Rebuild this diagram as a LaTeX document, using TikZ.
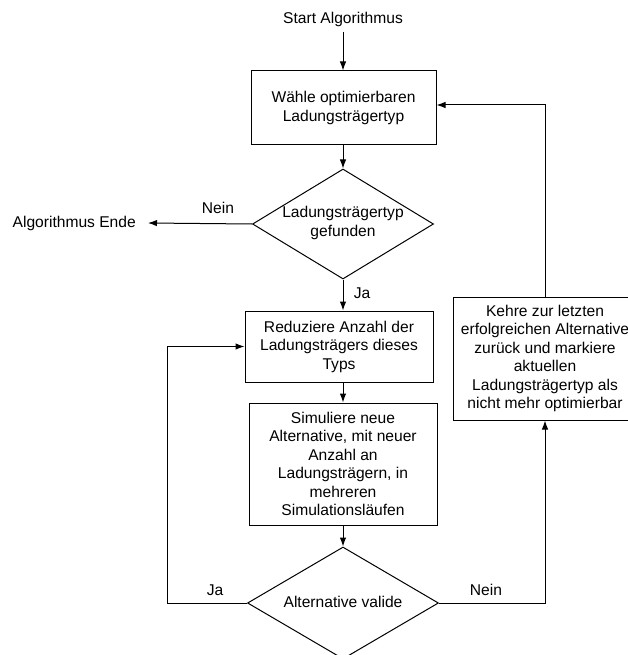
\documentclass[tikz,border=0pt]{standalone}
\usepackage{fontspec}
\setmainfont{Liberation Sans}
\usetikzlibrary{shapes.geometric,arrows.meta}
\begin{document}
\begin{tikzpicture}[x=1pt,y=-1pt,
  every node/.style={font=\fontsize{15.6}{18.5}\selectfont},
  procbox/.style={draw,line width=1pt,inner sep=0pt,align=center},
  decbox/.style={draw,diamond,line width=1pt,inner sep=0pt},
  lbl/.style={inner sep=0pt},
  arr/.style={line width=1pt,-{Latex[length=9pt,width=6.5pt]}},
  ln/.style={line width=1pt}]
\useasboundingbox (0,0) rectangle (628,655);
\node[lbl,anchor=south,inner ysep=5pt] (start) at (343,32) {Start Algorithmus};
\node[procbox,minimum width=185pt,minimum height=74pt] (b1) at (343.5,108) {Wähle optimierbaren\\Ladungsträgertyp};
\node[decbox,minimum width=181pt,minimum height=110pt] (d1) at (343,224) {};
\node[lbl,align=center] (d1t) at (343,223) {Ladungsträgertyp\\gefunden};
\node[lbl,anchor=east,inner xsep=12pt] (endn) at (148,223) {Algorithmus Ende};
\node[lbl] (nein1) at (218,208) {Nein};
\node[lbl] (ja1) at (362,293) {Ja};
\node[procbox,minimum width=188pt,minimum height=71pt] (b2) at (339,346.5) {Reduziere Anzahl der\\Ladungsträgers dieses\\Typs};
\node[procbox,minimum width=188pt,minimum height=122pt] (b3) at (343,464) {Simuliere neue\\Alternative, mit neuer\\Anzahl an\\Ladungsträgern, in\\mehreren\\Simulationsläufen};
\node[decbox,minimum width=191pt,minimum height=112pt] (d2) at (343,603) {};
\node[lbl] (d2t) at (343,602) {Alternative valide};
\node[lbl] (ja2) at (215,590) {Ja};
\node[lbl] (nein2) at (486,590) {Nein};
\node[procbox,minimum width=184pt,minimum height=123pt] (rb) at (545,358.5) {Kehre zur letzten\\erfolgreichen Alternative\\zurück und markiere\\aktuellen\\Ladungsträgertyp als\\nicht mehr optimierbar};
\coordinate (lc) at (167,603);
\coordinate (tc) at (545,105);
\draw[arr] (start.south) -- (b1.north -| start.south);
\draw[arr] (b1.south -| d1.north) -- (d1.north);
\draw[arr] (d1.west) -- (endn.east);
\draw[arr] (d1.south) -- (b2.north -| d1.south);
\draw[arr] (b2.south -| b3.north) -- (b3.north);
\draw[arr] (b3.south) -- (d2.north);
\draw[arr] (d2.west) -- (lc) |- (b2.west);
\draw[arr] (d2.east) -| (rb.south);
\draw[arr] (rb.north) -- (tc) -- (tc -| b1.east);
\end{tikzpicture}
\end{document}
